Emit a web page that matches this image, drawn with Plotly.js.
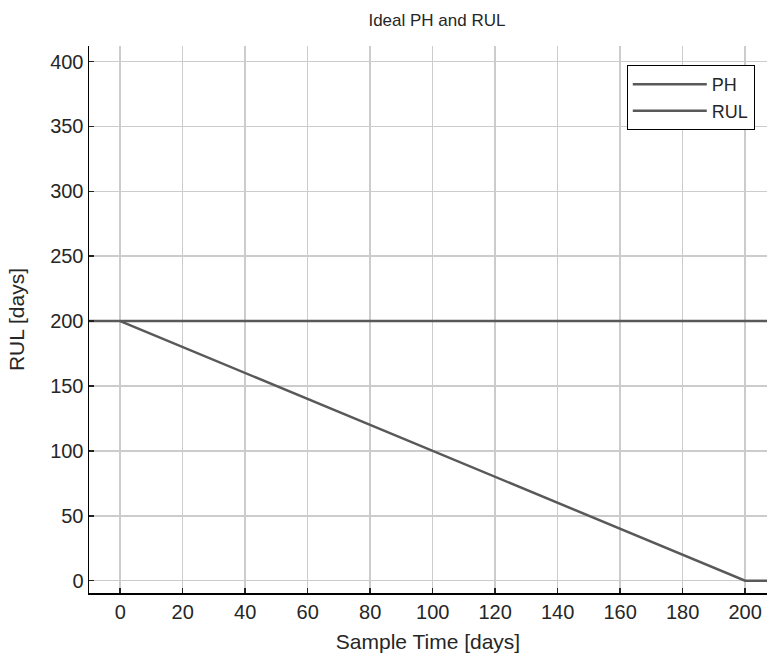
<!DOCTYPE html>
<html>
<head>
<meta charset="utf-8">
<script src="https://cdn.plot.ly/plotly-3.0.1.min.js"></script>
<style>html,body{margin:0;padding:0;background:#fff;}#chart{width:767px;height:661px;}</style>
</head>
<body>
<div id="chart"></div>
<script>
// Prediction horizon (constant) and ideal remaining useful life
const phTime = [-10, 210];
const phValue = [200, 200];
const rulTime = [0, 200, 210];
const rulValue = [200, 0, 0];

const xTicks = [0, 20, 40, 60, 80, 100, 120, 140, 160, 180, 200];
const yTicks = [0, 50, 100, 150, 200, 250, 300, 350, 400];

const lineColor = '#595959';
const textColor = '#262626';

const traces = [
  { x: phTime, y: phValue, name: 'PH', mode: 'lines', line: { color: lineColor, width: 2.5 } },
  { x: rulTime, y: rulValue, name: 'RUL', mode: 'lines', line: { color: lineColor, width: 2.5 } }
];

const axisCommon = {
  showline: true, linecolor: '#000', linewidth: 1.5,
  ticks: 'inside', ticklen: 5, tickwidth: 1.5, tickcolor: '#222',
  showgrid: true, gridcolor: '#cccccc', gridwidth: 1.5,
  zeroline: false, mirror: false,
  tickfont: { size: 20, color: textColor }
};

const layout = {
  width: 767, height: 661,
  margin: { l: 89, r: 0, t: 46, b: 68 },
  paper_bgcolor: '#fff', plot_bgcolor: '#fff',
  font: { family: 'Liberation Sans, Arial, sans-serif', color: textColor },
  title: { text: 'Ideal PH and RUL', font: { size: 17, color: textColor }, x: 0.5697, xanchor: 'center', y: 0.97, yanchor: 'middle' },
  xaxis: Object.assign({}, axisCommon, {
    range: [-10, 207], tickvals: xTicks,
    title: { text: 'Sample Time [days]', font: { size: 21, color: textColor }, standoff: 13 }
  }),
  yaxis: Object.assign({}, axisCommon, {
    range: [-9.5, 412], tickvals: yTicks,
    title: { text: 'RUL [days]', font: { size: 21, color: textColor }, standoff: 20 }
  }),
  showlegend: true,
  legend: {
    x: 0.982, xanchor: 'right', y: 0.965, yanchor: 'top',
    bgcolor: '#fff', bordercolor: '#000', borderwidth: 1,
    font: { size: 18, color: textColor }, itemwidth: 74,
    tracegroupgap: 0
  }
};

Plotly.newPlot('chart', traces, layout, { displayModeBar: false, staticPlot: true });
</script>
</body>
</html>
